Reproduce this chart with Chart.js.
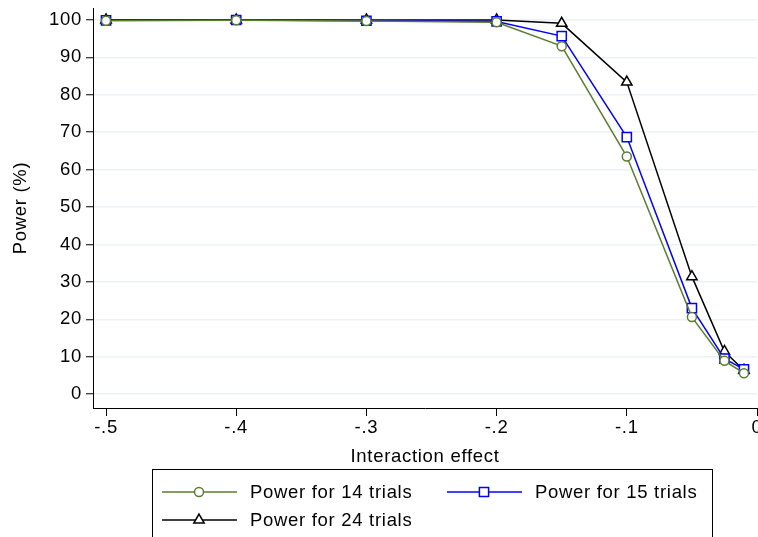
<!DOCTYPE html>
<html>
<head>
<meta charset="utf-8">
<script src="https://cdn.jsdelivr.net/npm/chart.js@4/dist/chart.umd.min.js"></script>
<style>
  html, body { margin: 0; padding: 0; background: #fff; }
  #wrap { width: 758px; height: 537px; position: relative; }
</style>
</head>
<body>
<div id="wrap"><canvas id="powerChart"></canvas></div>
<script>
// Interaction effect values (x)
const effects = [-0.5, -0.4, -0.3, -0.2, -0.15, -0.1, -0.05, -0.025, -0.01];

// Power (%) for each number of trials
const power14 = [99.8, 99.9, 99.7, 99.4, 93.0, 63.5, 20.6, 8.9, 5.6];
const power15 = [99.9, 100, 99.8, 99.6, 95.7, 68.7, 23.0, 9.5, 6.6];
const power24 = [100, 100, 100, 100, 99.1, 83.4, 31.4, 11.4, 6.4];

const seriesLabels = ['Power for 14 trials', 'Power for 15 trials', 'Power for 24 trials'];

// Tick labels
const xTicks = [-0.5, -0.4, -0.3, -0.2, -0.1, 0];
const yTicks = [0, 10, 20, 30, 40, 50, 60, 70, 80, 90, 100];

const FONT = '"Liberation Sans", Arial, sans-serif';
const FSIZE = 18.5;
const SPACING = '0.7px';

function toPoints(vals) {
    return effects.map((x, i) => ({ x: x, y: vals[i] }));
}

function fmtX(v) {
    if (Math.abs(v) < 1e-9) return '0';
    return v.toFixed(1).replace('0.', '.');
}

function makeSet(label, data, color, style, radius) {
    return {
        label: label,
        data: toPoints(data),
        borderColor: color,
        backgroundColor: '#fff',
        borderWidth: 1.5,
        pointStyle: style,
        pointRadius: radius,
        pointHoverRadius: radius,
        pointBorderColor: color,
        pointBackgroundColor: '#fff',
        pointBorderWidth: 1.5,
        tension: 0,
        fill: false,
        clip: false
    };
}

// slightly wider text, closer to the Stata rendering
const textSpacing = {
    id: 'textSpacing',
    beforeLayout(chart) { chart.ctx.letterSpacing = SPACING; },
    beforeDraw(chart) { chart.ctx.letterSpacing = SPACING; }
};

// Stata-like boxed legend below the plot
const boxLegend = {
    id: 'boxLegend',
    afterDraw(chart) {
        const ctx = chart.ctx;
        ctx.save();
        ctx.letterSpacing = SPACING;
        ctx.strokeStyle = '#000';
        ctx.lineWidth = 1;
        ctx.strokeRect(152.5, 469.5, 560, 80);

        const slots = [
            { x: 162, y: 492 },
            { x: 447, y: 492 },
            { x: 162, y: 520 }
        ];
        ctx.font = FSIZE + 'px ' + FONT;
        ctx.textBaseline = 'middle';
        ctx.textAlign = 'left';
        chart.data.datasets.forEach((ds, i) => {
            const s = slots[i];
            ctx.strokeStyle = ds.borderColor;
            ctx.lineWidth = 1.5;
            ctx.beginPath();
            ctx.moveTo(s.x, s.y);
            ctx.lineTo(s.x + 75, s.y);
            ctx.stroke();
            ctx.fillStyle = '#fff';
            Chart.helpers.drawPoint(ctx, {
                pointStyle: ds.pointStyle,
                radius: ds.pointRadius,
                borderWidth: 1.5,
                rotation: 0
            }, s.x + 37, s.y);
            ctx.fillStyle = '#000';
            ctx.fillText(ds.label, s.x + 88, s.y + 1);
        });
        ctx.restore();
    }
};

window.onload = () => {
    const ctx = document.getElementById('powerChart').getContext('2d');
    new Chart(ctx, {
        type: 'line',
        data: {
            datasets: [
                makeSet(seriesLabels[0], power14, '#5b7d31', 'circle', 4.5),
                makeSet(seriesLabels[1], power15, '#0000ff', 'rect', 6.5),
                makeSet(seriesLabels[2], power24, '#000000', 'triangle', 6)
            ]
        },
        options: {
            responsive: true,
            maintainAspectRatio: false,
            animation: false,
            layout: {
                autoPadding: false,
                padding: { left: 0, right: 1, top: 8, bottom: 69 }
            },
            plugins: {
                legend: { display: false },
                tooltip: { enabled: false }
            },
            scales: {
                x: {
                    type: 'linear',
                    min: -0.51,
                    max: 0,
                    afterBuildTicks: s => { s.ticks = xTicks.map(v => ({ value: v })); },
                    afterFit: s => { s.height = 60; s.paddingLeft = 0; s.paddingRight = 0; },
                    grid: {
                        drawOnChartArea: false,
                        drawTicks: true,
                        tickLength: 8,
                        tickColor: '#000',
                        tickWidth: 1
                    },
                    border: { color: '#000', width: 1 },
                    ticks: {
                        color: '#000',
                        font: { family: FONT, size: FSIZE },
                        padding: 1,
                        maxRotation: 0,
                        autoSkip: false,
                        callback: v => fmtX(v)
                    },
                    title: {
                        display: true,
                        text: 'Interaction effect',
                        color: '#000',
                        font: { family: FONT, size: FSIZE },
                        padding: { top: 0, bottom: 0 }
                    }
                },
                y: {
                    min: -3.7,
                    max: 103.2,
                    afterBuildTicks: s => { s.ticks = yTicks.map(v => ({ value: v })); },
                    afterFit: s => { s.width = 93; s.paddingTop = 0; s.paddingBottom = 0; },
                    grid: {
                        color: '#eaf2f3',
                        lineWidth: 1.5,
                        drawTicks: true,
                        tickLength: 7,
                        tickColor: '#000',
                        tickWidth: 1
                    },
                    border: { color: '#000', width: 1 },
                    ticks: {
                        color: '#000',
                        font: { family: FONT, size: FSIZE },
                        padding: 4,
                        autoSkip: false
                    },
                    title: {
                        display: true,
                        text: 'Power (%)',
                        color: '#000',
                        font: { family: FONT, size: FSIZE },
                        padding: { top: 10, bottom: 0 }
                    }
                }
            }
        },
        plugins: [textSpacing, boxLegend]
    });
};
</script>
</body>
</html>
